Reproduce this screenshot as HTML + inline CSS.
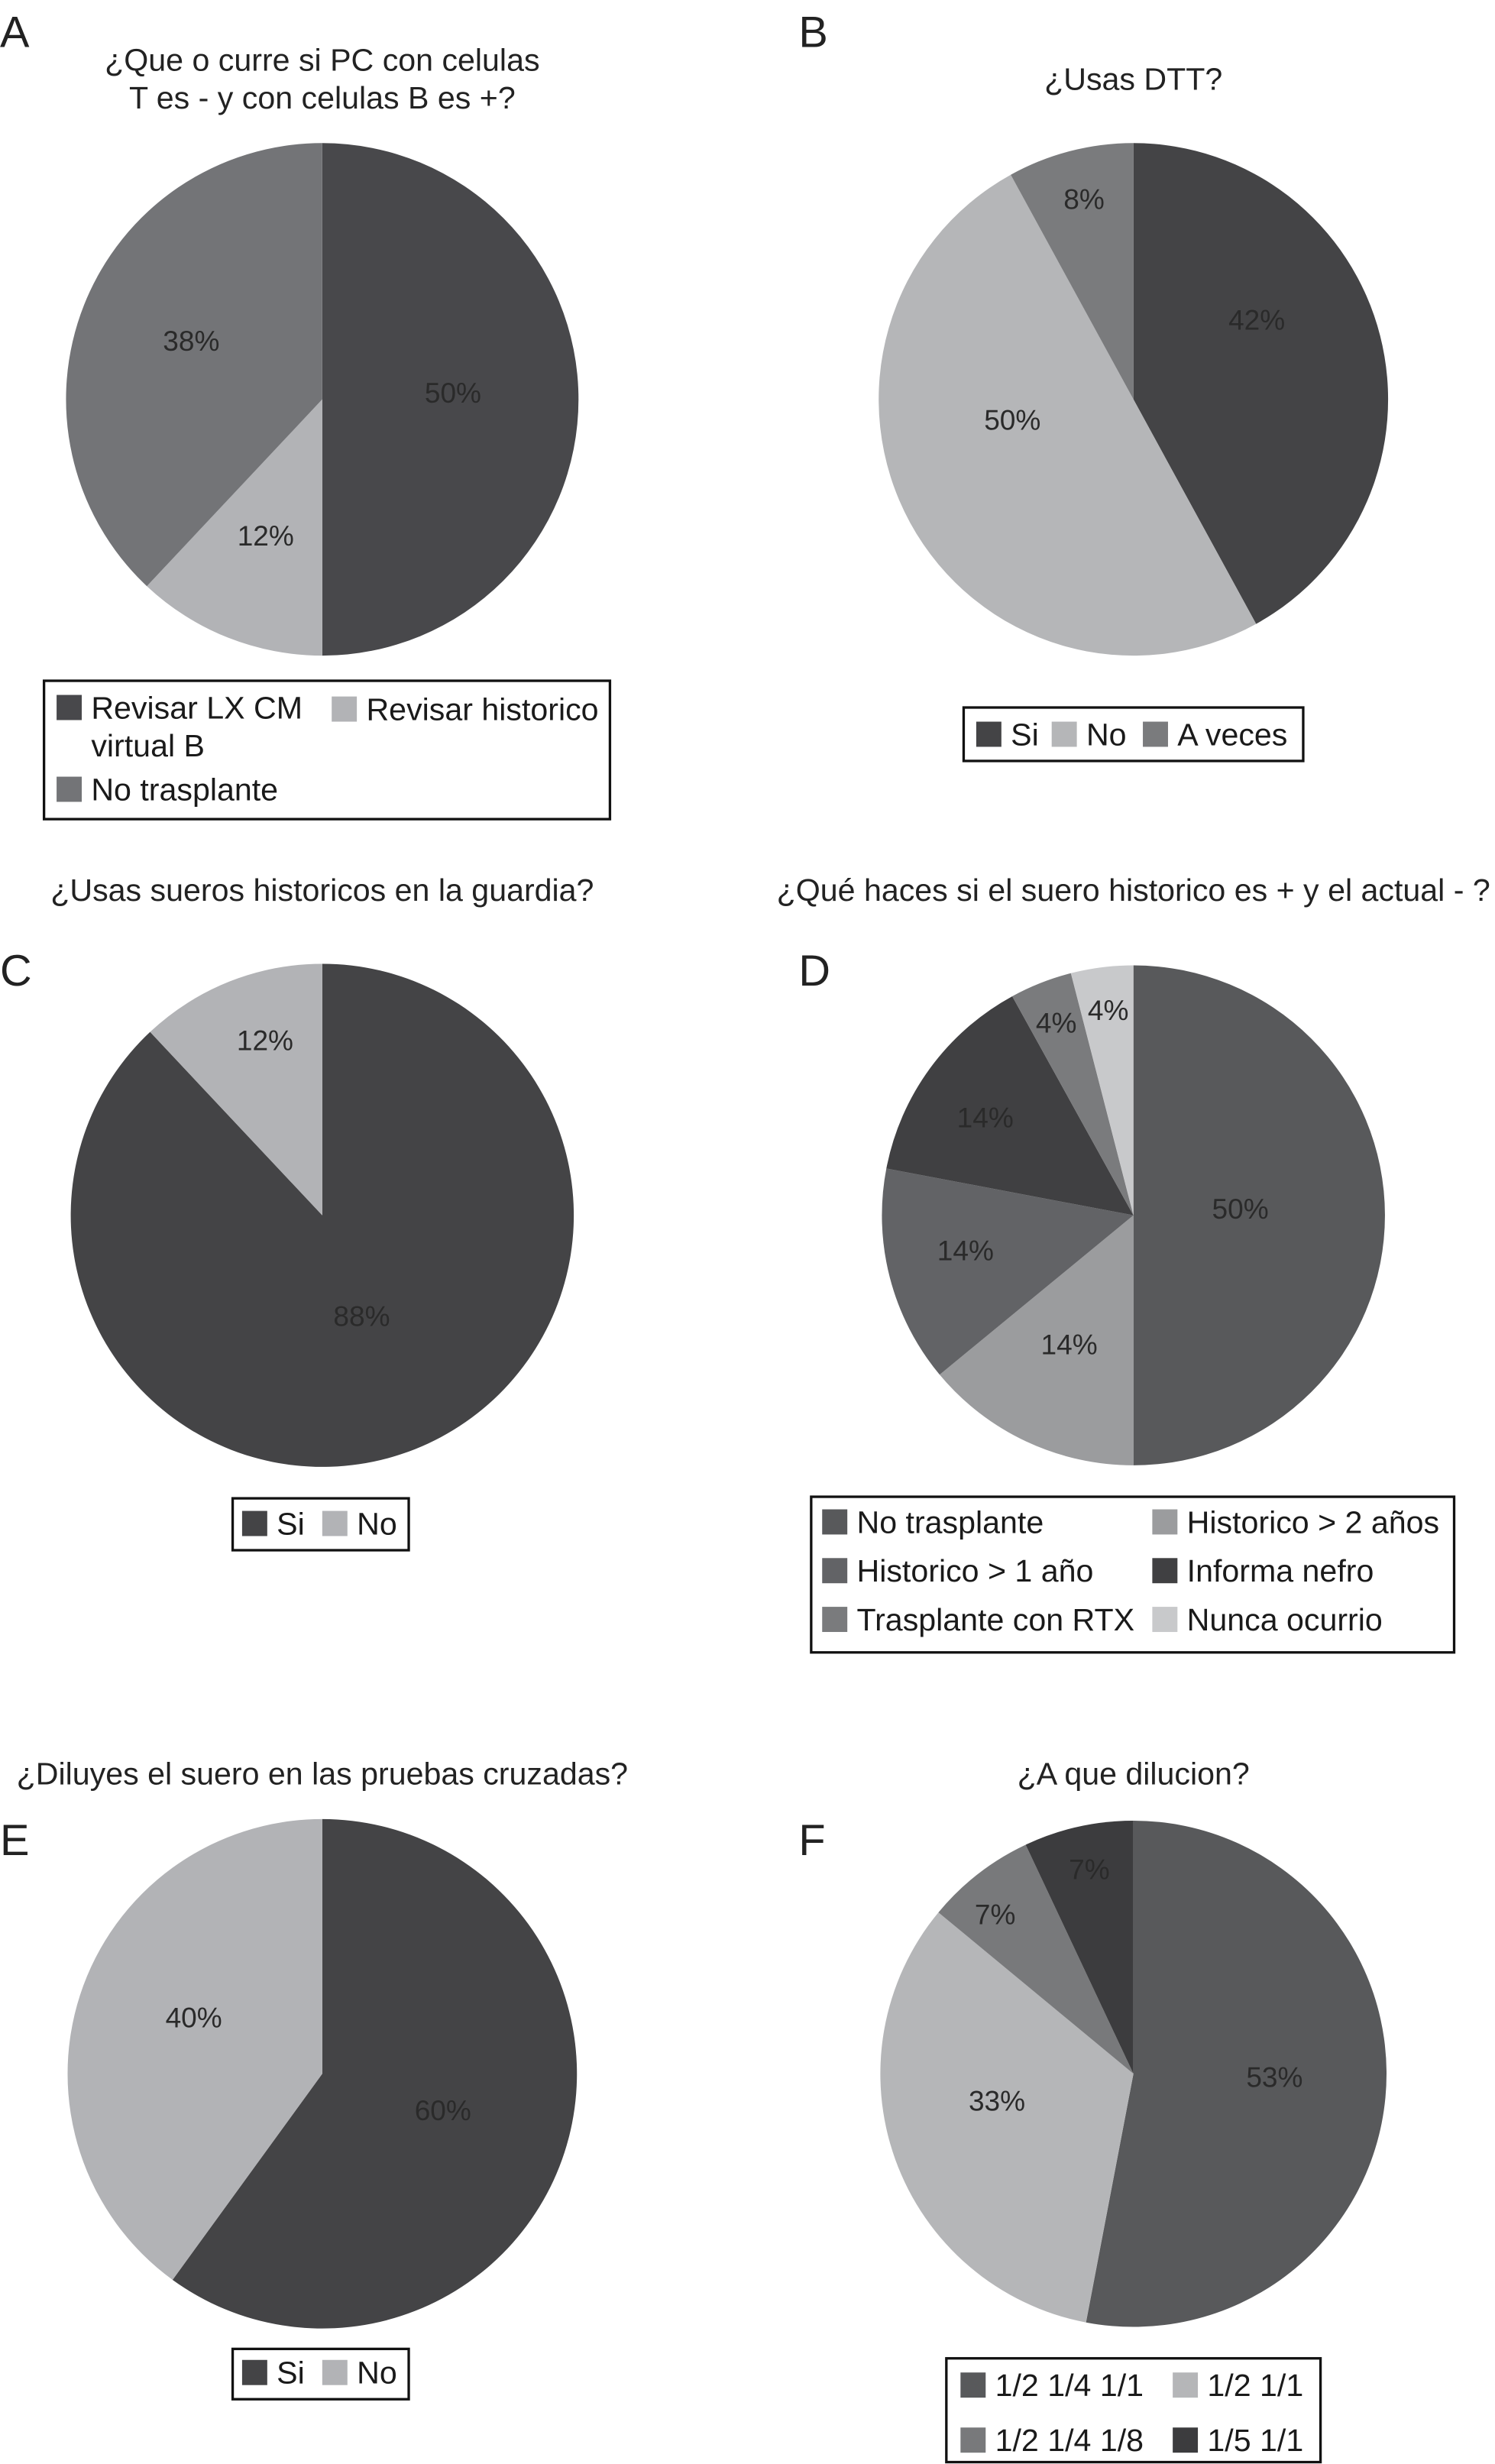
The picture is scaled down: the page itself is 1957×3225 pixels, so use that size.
<!DOCTYPE html>
<html><head><meta charset="utf-8">
<style>
html,body{margin:0;padding:0;background:#fff;}
svg{display:block;}
text{font-family:"Liberation Sans",Arial,sans-serif;}
</style></head>
<body>
<svg id="fig" width="1957" height="3225" viewBox="0 0 951 1567.2" preserveAspectRatio="none" xmlns="http://www.w3.org/2000/svg">
<g id="static" font-size="20" fill="#222">
  <text x="0" y="30" font-size="28">A</text>
  <text x="508" y="30" font-size="28">B</text>
  <text x="0" y="627" font-size="28">C</text>
  <text x="508" y="627" font-size="28">D</text>
  <text x="0" y="1180" font-size="28">E</text>
  <text x="508" y="1180" font-size="28">F</text>
  <text x="205" y="45" text-anchor="middle">¿Que o curre si PC con celulas</text>
  <text x="205" y="69" text-anchor="middle">T es -  y con celulas B es +?</text>
  <text x="721" y="57" text-anchor="middle">¿Usas DTT?</text>
  <text x="205" y="573" text-anchor="middle">¿Usas sueros historicos en la guardia?</text>
  <text x="721" y="573" text-anchor="middle">¿Qué haces si el suero historico es + y el actual - ?</text>
  <text x="205" y="1135" text-anchor="middle">¿Diluyes el suero en las pruebas cruzadas?</text>
  <text x="721" y="1135" text-anchor="middle">¿A que dilucion?</text>
</g>
<g id="pies"></g>
</svg>
<script>
// Panel A
const aLabels = ["Revisar LX CM virtual B","Revisar historico","No trasplante"];
const aValues = [50,12,38];
const aColors = ["#48484b","#b2b3b6","#737477"];
// Panel B
const bLabels = ["Si","No","A veces"];
const bValues = [42,50,8];
const bColors = ["#444446","#b5b6b8","#7a7b7d"];
// Panel C
const cLabels = ["Si","No"];
const cValues = [88,12];
const cColors = ["#444446","#b2b3b6"];
// Panel D
const dLabels = ["No trasplante","Historico > 2 años","Historico > 1 año","Informa nefro","Trasplante con RTX","Nunca ocurrio"];
const dValues = [50,14,14,14,4,4];
const dColors = ["#58595b","#9b9c9e","#626366","#404042","#7a7b7d","#c8c9cb"];
// Panel E
const eLabels = ["Si","No"];
const eValues = [60,40];
const eColors = ["#444446","#b2b3b6"];
// Panel F
const fLabels = ["1/2 1/4 1/1","1/2 1/1","1/2 1/4 1/8","1/5 1/1"];
const fValues = [53,33,7,7];
const fColors = ["#58595b","#b5b6b8","#78797b","#3c3c3e"];

const NS="http://www.w3.org/2000/svg";
const root=document.getElementById('pies');
function mk(tag,attrs,parent){const e=document.createElementNS(NS,tag);for(const k in attrs)e.setAttribute(k,attrs[k]);(parent||root).appendChild(e);return e;}

function pie(id,cx,cy,rx,ry,labels,values,colors,labelDist,offs){
  const g=mk('g',{});
  
  
  const total=values.reduce((a,b)=>a+b,0);
  let acc=0;
  values.forEach((v,i)=>{
    const a0=acc/total*2*Math.PI, a1=(acc+v)/total*2*Math.PI; acc+=v;
    const x0=cx+rx*Math.sin(a0), y0=cy-ry*Math.cos(a0);
    const x1=cx+rx*Math.sin(a1), y1=cy-ry*Math.cos(a1);
    const large=(a1-a0)>Math.PI?1:0;
    const p=mk('path',{d:`M${cx},${cy} L${x0},${y0} A${rx},${ry} 0 ${large} 1 ${x1},${y1} Z`,fill:colors[i]},g);
    
    
    const am=(a0+a1)/2, d=(labelDist&&labelDist[i])||0.55;
    const o=(offs&&offs[i])||[0,0];
    const t=mk('text',{x:cx+rx*d*Math.sin(am)+o[0],y:cy-ry*d*Math.cos(am)+2+o[1],'text-anchor':'middle','font-size':18,fill:'#2a2a2a'},g);
    t.textContent=Math.round(v/total*100)+'%';
    
    
  });
}
function legend(id,x,y,w,h,items,fs){
  const g=mk('g',{});
  
  
  const r=mk('rect',{x:x,y:y,width:w,height:h,fill:'#fff',stroke:'#111','stroke-width':1.6},g);
  
  
  items.forEach(it=>{
    const s=mk('rect',{x:it.x,y:it.y-13,width:16,height:16,fill:it.c},g);
    
    
    const t=mk('text',{x:it.x+22,y:it.y+2,'font-size':fs||20,fill:'#1a1a1a'},g);
    t.textContent=it.t;
    
    
  });
}

pie('a',205,254,163,163,aLabels,aValues,aColors,[0.51,0.6,0.55]);
legend('a',28,433,360,88,[
  {x:36,y:455,c:aColors[0],t:"Revisar LX CM"},
  {x:211,y:456,c:aColors[1],t:aLabels[1]},
  {x:36,y:507,c:aColors[2],t:aLabels[2]}]);
mk('text',{x:58,y:481,'font-size':20,fill:'#1a1a1a'}).textContent="virtual B";

pie('b',721,254,162,163,bLabels,bValues,bColors,[0.5,0.5,0.78],[[0,-26],[-6,-22],[0,0]]);
legend('b',613,450,216,34,[
  {x:621,y:472,c:bColors[0],t:bLabels[0]},
  {x:669,y:472,c:bColors[1],t:bLabels[1]},
  {x:727,y:472,c:bColors[2],t:bLabels[2]}]);

pie('c',205,773,160,160,cLabels,cValues,cColors,[0.46,0.72],[[-2,0],[6,0]]);
legend('c',148,953,112,33,[
  {x:154,y:974,c:cColors[0],t:cLabels[0]},
  {x:205,y:974,c:cColors[1],t:cLabels[1]}]);

pie('d',721,773,160,159,dLabels,dValues,dColors,[0.5,0.6,0.67,0.62,0.8,0.8],[[-12,0],[0,0],[-3,0],[-14,0],[-2,0],[0,0]]);
legend('d',516,952,409,99,[
  {x:523,y:973,c:dColors[0],t:dLabels[0]},
  {x:733,y:973,c:dColors[1],t:dLabels[1]},
  {x:523,y:1004,c:dColors[2],t:dLabels[2]},
  {x:733,y:1004,c:dColors[3],t:dLabels[3]},
  {x:523,y:1035,c:dColors[4],t:dLabels[4]},
  {x:733,y:1035,c:dColors[5],t:dLabels[5]}]);

pie('e',205,1319,162,162,eLabels,eValues,eColors,[0.55,0.55],[[-8,0],[3,-4]]);
legend('e',148,1494,112,32,[
  {x:154,y:1514,c:eColors[0],t:eLabels[0]},
  {x:205,y:1514,c:eColors[1],t:eLabels[1]}]);

pie('f',721,1319,161,161,fLabels,fValues,fColors,[0.56,0.56,0.78,0.8],[[0,-2],[-2,-9],[-11,2],[0,0]]);
legend('f',602,1500,238,66,[
  {x:611,y:1522,c:fColors[0],t:fLabels[0]},
  {x:746,y:1522,c:fColors[1],t:fLabels[1]},
  {x:611,y:1557,c:fColors[2],t:fLabels[2]},
  {x:746,y:1557,c:fColors[3],t:fLabels[3]}]);
</script>
</body></html>
